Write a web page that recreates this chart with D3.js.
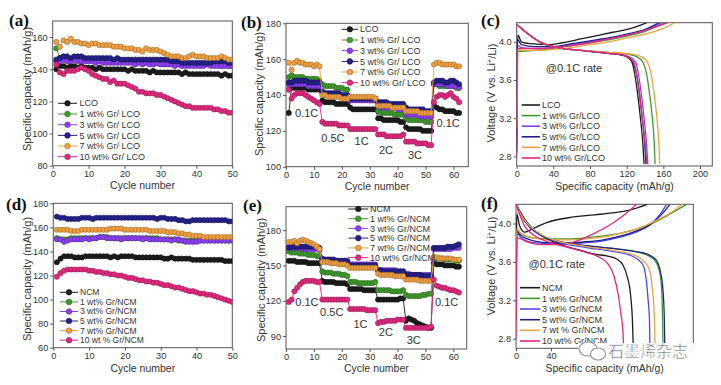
<!DOCTYPE html>
<html>
<head>
<meta charset="utf-8">
<title>Gr / LCO and Gr / NCM</title>
<script src="https://d3js.org/d3.v7.min.js"></script>
<style>
    body { margin: 0; background: #fff; }
    svg text { font-family: "Liberation Sans", Arial, sans-serif; fill: #333; }
    .plabel { font-family: "Liberation Serif", "Times New Roman", serif !important; font-weight: bold; fill: #111 !important; }
</style>
</head>
<body>
<svg id="fig" width="721" height="385"></svg>
<script>
    // ---- data ----
    const lcoNames = ['LCO', '1 wt% Gr/ LCO', '3 wt% Gr/ LCO', '5 wt% Gr/ LCO', '7 wt% Gr/ LCO', '10 wt% Gr/ LCO'];
    const lcoNamesC = ['LCO', '1 wt% Gr/LCO', '3 wt% Gr/LCO', '5 wt% Gr/LCO', '7 wt% Gr/LCO', '10 wt% Gr/LCO'];
    const ncmNamesD = ['NCM', '1 wt% Gr/NCM', '3 wt% Gr/NCM', '5 wt% Gr/NCM', '7 wt% Gr/NCM', '10 wt % Gr/NCM'];
    const ncmNamesE = ['NCM', '1 wt% Gr/NCM', '3 wt% Gr/NCM', '5 wt% Gr/NCM', '7 wt% Gr/NCM', '10 wt% Gr/NCM'];
    const ncmNamesF = ['NCM', '1 wt% Gr/NCM', '3 wt% Gr/NCM', '5 wt% Gr/NCM', '7 wt % Gr/NCM', '10 wt% Gr/NCM'];

    // (a) LCO cycling at 0.1C, cycles 1..50
    const aLCO = [140,142,142,141,142,142,141,142,141,141,141,140,141,140,140,140,140,140,140,140,139,140,139,139,139,139,138,139,138,138,138,138,138,138,138,137,138,137,137,137,137,137,137,137,137,137,136,137,136,136];
    const aGr1 = [153,147,146,147,146,146,147,146,146,146,146,146,146,145,146,145,145,145,145,145,145,145,145,145,145,144,145,144,144,144,144,144,144,144,143,143,143,143,143,143,143,143,143,143,143,143,142,143,142,142];
    const aGr3 = [145,145,146,145,145,146,145,145,145,145,145,144,145,144,144,144,144,144,144,144,144,144,143,144,143,144,143,143,144,143,143,143,143,142,143,142,142,142,142,142,142,142,143,142,142,142,142,142,142,142];
    const aGr5 = [146,147,148,148,147,148,148,148,147,147,147,147,147,147,147,147,146,147,146,146,146,146,146,146,146,146,146,146,146,146,146,146,145,145,145,144,144,144,144,144,144,144,144,144,145,145,145,145,144,144];
    const aGr7 = [157,154,158,157,159,157,157,156,156,155,156,156,155,155,155,155,154,154,154,153,153,153,152,152,151,153,152,152,152,151,150,149,148,148,148,147,147,148,149,148,148,148,147,147,147,147,148,147,146,146];
    const aGr10 = [143,138,137,139,139,139,140,141,140,139,137,136,135,134,134,132,133,131,131,131,130,129,128,126,126,125,125,125,124,124,123,122,121,120,119,118,117,117,116,116,116,116,116,116,115,115,114,114,113,113];

    // (b) LCO rate test, cycles 1..62
    const bLCO = [130,144,144,144,144,144,144,143,143,143,143,143, 137,136,136,136,136,135,135,135,135,135, 133,132,132,132,132,132,132,132,132,132, 127,127,126,126,126,126,126,126,125,125, 122,121,121,121,121,121,120,120,120,120, 134,133,132,132,131,131,131,131,130,130];
    const bGr1 = [150,151,150,150,150,150,149,149,149,149,149,148, 146,145,145,145,145,144,144,144,143,143, 138,138,138,138,138,138,138,137,137,137, 131,130,130,130,130,130,129,129,129,129, 127,126,126,126,126,126,126,125,125,125, 146,146,145,145,145,145,145,145,144,144];
    const bGr3 = [146,146,146,146,146,146,146,145,145,145,145,145, 141,140,140,140,140,140,140,139,139,139, 137,137,137,137,137,137,137,137,137,137, 134,133,133,133,133,133,133,132,132,132, 129,129,129,129,129,128,128,128,128,128, 146,146,146,146,146,145,145,145,145,144];
    const bGr5 = [147,147,148,148,148,148,148,147,147,147,147,147, 142,141,141,141,141,141,141,140,140,140, 138,138,138,138,138,138,138,138,138,138, 136,136,136,136,135,135,135,135,135,135, 133,132,132,132,132,132,132,131,131,131, 147,148,148,148,147,147,148,148,147,146];
    const bGr7 = [158,154,158,159,158,158,157,157,157,156,157,156, 140,140,139,139,139,139,139,138,138,138, 139,139,139,139,139,139,139,139,139,138, 134,134,134,134,134,133,133,133,133,133, 131,131,131,131,131,130,130,130,130,130, 157,158,158,157,157,157,157,157,156,156];
    const bGr10 = [143,138,140,141,141,141,140,139,138,137,136,135, 125,124,124,124,124,124,123,123,123,123, 121,121,121,121,121,121,121,121,121,121, 118,118,118,117,117,117,117,117,117,118, 114,114,114,114,113,113,113,113,112,112, 136,139,140,140,139,140,141,139,138,136];
    const rateB = [['0.1C', 7.4, 129.8], ['0.5C', 16.8, 116.2], ['1C', 27.1, 114], ['2C', 35.8, 109.3], ['3C', 46.2, 106.5], ['0.1C', 58.1, 124.2]];

    // (c) LCO charge / discharge at 0.1C: [capacity, voltage]
    const cCharge = [
        [[0,3.0],[0.5,3.9],[1.5,4.07],[5,4.0],[15,3.98],[35,3.97],[50,3.99],[70,4.03],[90,4.07],[105,4.1],[125,4.14],[142,4.2]],
        [[0,2.95],[0.5,3.88],[1.5,3.9],[5,3.9],[20,3.91],[40,3.93],[60,3.96],[80,3.99],[100,4.02],[120,4.06],[140,4.11],[162,4.2]],
        [[0,2.9],[0.5,3.9],[1.5,3.96],[5,3.94],[20,3.93],[40,3.94],[60,3.97],[80,4.0],[100,4.03],[120,4.07],[140,4.12],[158,4.2]],
        [[0,2.85],[0.5,3.92],[1.5,4.02],[5,3.97],[20,3.95],[40,3.95],[60,3.98],[80,4.01],[100,4.04],[120,4.08],[140,4.13],[155,4.2]],
        [[0,3.1],[0.5,3.3],[1.5,3.92],[5,3.91],[20,3.91],[40,3.92],[60,3.94],[80,3.97],[100,4.0],[120,4.04],[140,4.08],[160,4.14],[172,4.2]],
        [[0,2.8],[0.5,3.9],[1.5,3.93],[5,3.93],[20,3.93],[40,3.94],[60,3.96],[80,3.99],[100,4.03],[120,4.07],[140,4.12],[165,4.2]]
    ];
    const cDischarge = [
        [[0,4.18],[10,4.1],[25,4.0],[45,3.94],[70,3.91],[100,3.88],[115,3.86],[122,3.83],[126,3.78],[129,3.65],[132,3.45],[135,3.2],[137.5,2.95],[139,2.72]],
        [[0,4.18],[10,4.1],[25,4.0],[45,3.94],[70,3.91],[100,3.89],[120,3.87],[132,3.84],[138,3.78],[142,3.65],[145,3.45],[148,3.2],[150,2.95],[151,2.72]],
        [[0,4.18],[10,4.1],[25,4.0],[45,3.94],[70,3.91],[100,3.88],[117,3.86],[125,3.83],[130,3.78],[133,3.65],[136,3.45],[139,3.2],[141.5,2.95],[143,2.72]],
        [[0,4.18],[10,4.1],[25,4.0],[45,3.94],[70,3.91],[100,3.88],[116,3.86],[123,3.83],[127,3.78],[131,3.65],[134,3.45],[137,3.2],[139.5,2.95],[141,2.72]],
        [[0,4.18],[10,4.1],[25,4.0],[45,3.94],[70,3.91],[100,3.89],[125,3.87],[137,3.84],[143,3.78],[147,3.65],[150,3.45],[153,3.2],[155,2.95],[156,2.72]],
        [[0,4.18],[10,4.1],[25,4.0],[45,3.94],[70,3.91],[100,3.88],[116,3.86],[123,3.83],[128,3.78],[131,3.65],[134,3.45],[137,3.2],[140,2.95],[142,2.72]]
    ];

    // (d) NCM cycling, cycles 1..50
    const dNCM = [131,134,136,136,136,135,135,135,136,136,136,136,136,136,136,135,136,135,136,136,136,136,135,135,135,135,135,135,135,135,134,134,135,134,134,134,134,134,133,133,133,133,133,133,133,133,133,132,132,132];
    const dGr1 = [151,150,150,150,151,151,151,151,151,151,151,151,152,152,152,151,151,151,151,151,151,151,151,151,151,151,151,151,151,150,150,150,150,150,149,149,149,149,149,149,149,149,149,149,149,149,149,149,149,149];
    const dGr3 = [150,150,148,149,150,150,150,150,151,150,151,151,152,152,151,151,151,151,150,151,151,151,151,151,150,151,150,150,150,150,150,150,149,150,150,149,148,148,148,148,149,149,149,149,149,149,149,149,149,149];
    const dGr5 = [169,168,168,167,167,167,167,168,168,168,167,168,168,168,168,168,168,168,168,168,168,168,168,168,168,168,168,168,167,168,168,167,167,167,166,166,165,165,166,166,166,166,166,166,166,166,166,166,165,165];
    const dGr7 = [158,158,158,158,157,157,157,158,158,158,158,158,158,158,158,159,159,159,159,158,158,158,158,158,158,158,157,157,157,157,157,156,156,156,155,155,154,154,153,153,153,152,152,152,152,152,152,152,152,152];
    const dGr10 = [119,122,124,125,125,125,125,125,125,124,124,123,123,122,122,121,121,120,120,119,118,118,117,116,116,115,115,114,114,113,112,112,111,110,110,109,108,107,107,106,105,105,104,104,103,102,101,100,99,98];

    // (e) NCM rate test, cycles 1..62
    const eNCM = [154,154,154,153,153,153,153,152,152,152,152,152, 137,136,136,136,136,135,135,135,135,134, 130,130,130,130,130,129,129,129,129,129, 121,121,121,121,121,121,121,121,122,122, 103,105,104,103,101,100,99,98,97,97, 152,151,151,151,150,150,150,150,149,149];
    const eGr1 = [162,161,161,161,160,160,160,159,159,159,158,158, 145,144,144,144,143,143,143,142,142,141, 136,136,136,135,135,135,135,135,135,136, 129,129,129,129,129,128,128,128,128,129, 125,124,124,124,124,124,125,125,126,126, 157,156,156,156,155,155,155,155,154,154];
    const eGr3 = [166,165,165,165,165,164,164,164,164,164,164,163, 156,155,155,155,155,154,154,154,154,153, 151,151,151,151,151,151,151,151,151,151, 146,146,146,146,146,146,146,145,145,145, 143,143,142,142,142,142,142,142,142,142, 164,164,164,164,164,164,164,165,165,165];
    const eGr5 = [165,166,166,166,166,166,166,166,166,166,166,165, 155,155,155,155,155,154,154,154,154,154, 150,150,150,150,150,150,150,150,150,150, 146,146,145,145,145,145,145,145,145,145, 142,142,142,142,142,142,141,141,141,141, 165,165,165,165,165,166,166,166,167,168];
    const eGr7 = [170,170,171,169,171,172,171,170,169,168,166,164, 153,153,153,152,152,152,151,151,151,150, 148,148,148,148,148,148,148,148,148,148, 143,142,142,142,142,142,141,141,141,141, 138,138,138,138,138,137,137,137,137,137, 157,157,156,156,156,156,156,155,155,155];
    const eGr10 = [119,121,128,131,134,136,137,137,137,137,136,136, 121,121,121,121,121,121,121,121,121,121, 113,113,113,113,113,113,112,112,112,112, 101,102,102,103,103,103,103,104,104,104, 97,97,97,97,97,97,97,97,97,98, 138,133,132,131,131,130,129,129,128,127];
    const rateE = [['0.1C', 7.5, 118.6], ['0.5C', 16.4, 110.1], ['1C', 26.7, 100], ['2C', 35.8, 93.1], ['3C', 45.8, 86.3], ['0.1C', 57.6, 118.6]];

    // (f) NCM charge / discharge at 0.1C
    const fCharge = [
        [[0,3.0],[0.5,3.85],[1,4.1],[4,3.98],[10,3.91],[20,3.95],[35,4.01],[60,4.06],[90,4.09],[110,4.11],[130,4.14],[150,4.2]],
        [[0,3.1],[0.5,3.5],[1,3.93],[5,3.9],[20,3.85],[40,3.84],[60,3.84],[80,3.85],[100,3.87],[120,3.9],[140,3.95],[160,4.02],[180,4.12],[195,4.2]],
        [[0,3.1],[0.5,3.6],[1,3.9],[5,3.86],[20,3.8],[40,3.79],[60,3.79],[80,3.8],[100,3.82],[120,3.86],[140,3.92],[155,4.0],[165,4.1],[172,4.2]],
        [[0,3.15],[0.5,3.7],[1,3.92],[5,3.88],[20,3.82],[40,3.8],[60,3.8],[80,3.81],[100,3.83],[120,3.87],[140,3.93],[155,4.0],[167,4.1],[176,4.2]],
        [[0,3.2],[0.5,3.5],[1,3.95],[5,3.9],[20,3.85],[40,3.83],[60,3.83],[80,3.84],[100,3.86],[120,3.9],[140,3.95],[160,4.03],[178,4.12],[190,4.2]],
        [[0,2.8],[0.5,3.6],[1,3.85],[15,3.8],[30,3.78],[50,3.78],[70,3.82],[90,3.9],[110,4.0],[125,4.1],[138,4.2]]
    ];
    const fDischarge = [
        [[0,4.2],[5,4.12],[12,4.02],[25,3.9],[45,3.8],[70,3.73],[90,3.68],[105,3.66],[115,3.63],[122,3.57],[127,3.45],[131,3.25],[133,3.0],[134,2.72]],
        [[0,4.2],[5,4.1],[15,3.97],[30,3.87],[50,3.81],[80,3.77],[110,3.74],[135,3.71],[150,3.67],[159,3.61],[164,3.5],[166.5,3.3],[167.5,3.0],[168,2.72]],
        [[0,4.2],[5,4.1],[15,3.97],[30,3.87],[50,3.8],[80,3.75],[110,3.71],[130,3.67],[140,3.62],[146,3.55],[149,3.4],[151,3.2],[152.5,3.0],[153,2.72]],
        [[0,4.2],[5,4.1],[15,3.97],[30,3.87],[50,3.81],[80,3.77],[110,3.74],[135,3.71],[150,3.68],[160,3.62],[165,3.5],[168,3.3],[169.5,3.0],[170,2.72]],
        [[0,4.2],[5,4.1],[15,3.98],[30,3.88],[50,3.81],[80,3.76],[110,3.72],[135,3.67],[147,3.6],[153,3.5],[156,3.3],[158,3.05],[159,2.72]],
        [[0,4.2],[4,4.1],[10,3.97],[22,3.87],[40,3.8],[60,3.75],[80,3.7],[95,3.65],[105,3.58],[112,3.45],[117,3.25],[120,3.05],[122,2.9],[123,2.72]]
    ];

    // ---- styles ----
    const COLORS = ['#1c1c1c', '#3f9a2c', '#8a3ff0', '#25208a', '#f0a040', '#e0287e'];
    const COLORS_F = ['#1c1c1c', '#3f9a2c', '#4f46ee', '#25208a', '#e9a448', '#e0287e'];
    const FONT = { TICK: 9.2, TITLE: 10.5, LEGEND: 9, RATE: 11, PANEL: 17 };

    const svg = d3.select('#fig');
    const defs = svg.append('defs');

    // Build one panel: scales, frame, ticks and titles
    function makePanel(p) {
        const x = d3.scaleLinear().domain(p.xd).range([p.l, p.r]);
        const y = d3.scaleLinear().domain(p.yd).range([p.b, p.t]);
        const g = svg.append('g');

        defs.append('clipPath').attr('id', 'clip-' + p.key)
            .append('rect').attr('x', p.l).attr('y', p.t).attr('width', p.r - p.l).attr('height', p.b - p.t);

        // labels hidden under the watermark in (f) are left out
        const xfmt = d => (p.xHideFrom !== undefined && d >= p.xHideFrom) ? '' : d3.format('d')(d);
        const xa = g.append('g').attr('transform', `translate(0,${p.b})`)
            .call(d3.axisBottom(x).tickValues(p.xt).tickSize(3).tickSizeOuter(0).tickPadding(1.5).tickFormat(xfmt));
        const ya = g.append('g').attr('transform', `translate(${p.l},0)`)
            .call(d3.axisLeft(y).tickValues(p.yt).tickSize(3).tickSizeOuter(0).tickPadding(2).tickFormat(d3.format(p.yf)));
        [xa, ya].forEach(a => {
            a.select('.domain').remove();
            a.selectAll('line').attr('stroke', '#555');
            a.selectAll('text').style('font-size', FONT.TICK + 'px').attr('fill', '#333');
        });

        g.append('rect').attr('x', p.l).attr('y', p.t).attr('width', p.r - p.l).attr('height', p.b - p.t)
            .attr('fill', 'none').attr('stroke', '#555').attr('stroke-width', 1);

        g.append('text').attr('x', (p.l + p.r) / 2).attr('y', p.xty).attr('text-anchor', 'middle')
            .style('font-size', FONT.TITLE + 'px').text(p.xtitle);

        const yt = g.append('text').attr('transform', `translate(${p.ytx},${p.yty}) rotate(-90)`)
            .attr('text-anchor', 'middle').attr('dy', '0.35em').style('font-size', (FONT.TITLE + 0.5) + 'px');
        if (p.volt) {
            yt.append('tspan').text('Voltage (V vs. Li');
            yt.append('tspan').attr('dy', '-0.35em').style('font-size', '7px').text('+');
            yt.append('tspan').attr('dy', '0.35em').text('/Li)');
        } else {
            yt.text(p.ytitle);
        }

        svg.append('text').attr('class', 'plabel').attr('x', p.px).attr('y', p.py)
            .style('font-size', FONT.PANEL + 'px').text(p.label);

        const plot = g.append('g').attr('clip-path', `url(#clip-${p.key})`);
        return { x, y, g, plot };
    }

    // Cycle data: line + circle markers
    function drawCycles(P, series) {
        series.forEach((vals, i) => {
            const pts = vals.map((v, j) => [j + 1, v]);
            const c = COLORS[i];
            P.plot.append('path')
                .attr('d', d3.line().x(d => P.x(d[0])).y(d => P.y(d[1]))(pts))
                .attr('fill', 'none').attr('stroke', c).attr('stroke-width', 0.9);
            P.plot.append('g').selectAll('circle').data(pts).join('circle')
                .attr('cx', d => P.x(d[0])).attr('cy', d => P.y(d[1])).attr('r', 2.6)
                .attr('fill', c).attr('stroke', d3.color(c).darker(1.2)).attr('stroke-width', 0.6);
        });
    }

    // Voltage profiles
    function drawCurves(P, charge, discharge, colors) {
        const line = d3.line().x(d => P.x(d[0])).y(d => P.y(d[1])).curve(d3.curveMonotoneX);
        [charge, discharge].forEach(set => set.forEach((pts, i) => {
            P.plot.append('path').attr('d', line(pts))
                .attr('fill', 'none').attr('stroke', colors[i]).attr('stroke-width', 1.3);
        }));
    }

    function legend(L, names, colors, markers, fs) {
        names.forEach((n, i) => {
            const y = L.ys[i];
            svg.append('line').attr('x1', L.x0).attr('x2', L.x1).attr('y1', y).attr('y2', y)
                .attr('stroke', colors[i]).attr('stroke-width', markers ? 1 : 1.6);
            if (markers) {
                svg.append('circle').attr('cx', (L.x0 + L.x1) / 2).attr('cy', y).attr('r', 2.8)
                    .attr('fill', colors[i]).attr('stroke', d3.color(colors[i]).darker(1.2)).attr('stroke-width', 0.6);
            }
            svg.append('text').attr('x', L.tx).attr('y', y).attr('dy', '0.35em')
                .style('font-size', (fs || FONT.LEGEND) + 'px').text(n);
        });
    }

    function rateLabels(P, labels) {
        labels.forEach(([t, xv, yv]) => {
            svg.append('text').attr('x', P.x(xv)).attr('y', P.y(yv)).attr('dy', '0.35em')
                .attr('text-anchor', 'middle').style('font-size', FONT.RATE + 'px').text(t);
        });
    }

    const cap = 'Specific capacity (mAh/g)';
    const cyc = 'Cycle number';

    // (a)
    const pA = makePanel({ key: 'a', l: 52.7, r: 232.3, t: 21, b: 165.7, xd: [0, 50], yd: [80, 170],
        xt: [0, 10, 20, 30, 40, 50], yt: [80, 100, 120, 140, 160], yf: 'd',
        xtitle: cyc, xty: 189, ytitle: cap, ytx: 27.5, yty: 89, label: '(a)', px: 9, py: 26 });
    drawCycles(pA, [aLCO, aGr1, aGr3, aGr5, aGr7, aGr10]);
    legend({ x0: 58, x1: 77, tx: 79.5, ys: [103.3, 114, 124.7, 135.4, 146, 156.7] }, lcoNames, COLORS, true);

    // (b)
    const pB = makePanel({ key: 'b', l: 286, r: 468.3, t: 23.3, b: 166.7, xd: [0, 65.3], yd: [100, 180],
        xt: [0, 10, 20, 30, 40, 50, 60], yt: [100, 120, 140, 160, 180], yf: 'd',
        xtitle: cyc, xty: 189.5, ytitle: cap, ytx: 259, yty: 94, label: '(b)', px: 241, py: 28 });
    drawCycles(pB, [bLCO, bGr1, bGr3, bGr5, bGr7, bGr10]);
    rateLabels(pB, rateB);
    legend({ x0: 341.7, x1: 358, tx: 360, ys: [29.3, 40, 50.7, 61.4, 72, 82.7] }, lcoNames, COLORS, true);

    // (c)
    const pC = makePanel({ key: 'c', l: 516.7, r: 712.3, t: 22.7, b: 166, xd: [0, 213.4], yd: [2.7, 4.2],
        xt: [0, 40, 80, 120, 160, 200], yt: [2.8, 3.2, 3.6, 4.0], yf: '.1f',
        xtitle: cap, xty: 189.5, volt: true, ytx: 491, yty: 93, label: '(c)', px: 481, py: 26 });
    drawCurves(pC, cCharge, cDischarge, COLORS);
    svg.append('text').attr('x', pC.x(62.5)).attr('y', pC.y(3.72)).attr('dy', '0.35em')
        .attr('text-anchor', 'middle').style('font-size', FONT.RATE + 'px').text('@0.1C rate');
    legend({ x0: 521.7, x1: 540, tx: 542, ys: [105, 115.6, 126.2, 136.8, 147.4, 158] }, lcoNamesC, COLORS, false);

    // (d)
    const pD = makePanel({ key: 'd', l: 53.3, r: 232.3, t: 203.3, b: 347.7, xd: [0, 50], yd: [60, 180],
        xt: [0, 10, 20, 30, 40, 50], yt: [60, 80, 100, 120, 140, 160, 180], yf: 'd',
        xtitle: cyc, xty: 371.5, ytitle: cap, ytx: 27.5, yty: 279, label: '(d)', px: 6, py: 210 });
    drawCycles(pD, [dNCM, dGr1, dGr3, dGr5, dGr7, dGr10]);
    legend({ x0: 60, x1: 78, tx: 80, ys: [292.3, 301.9, 311.5, 321, 330.6, 340.2] }, ncmNamesD, COLORS, true, 8.5);

    // (e)
    const pE = makePanel({ key: 'e', l: 286, r: 466.7, t: 206.7, b: 349, xd: [0, 64.8], yd: [79, 200],
        xt: [0, 10, 20, 30, 40, 50, 60], yt: [90, 120, 150, 180], yf: 'd',
        xtitle: cyc, xty: 372, ytitle: cap, ytx: 261, yty: 280, label: '(e)', px: 243, py: 211 });
    drawCycles(pE, [eNCM, eGr1, eGr3, eGr5, eGr7, eGr10]);
    rateLabels(pE, rateE);
    legend({ x0: 348.3, x1: 368.3, tx: 370, ys: [209, 218.7, 228.4, 238.1, 247.9, 257.6] }, ncmNamesE, COLORS, true);

    // (f)
    const pF = makePanel({ key: 'f', l: 516, r: 693.3, t: 204.3, b: 348.3, xd: [0, 202.6], yd: [2.7, 4.2],
        xt: [0, 40, 80, 120, 160, 200], xHideFrom: 80, yt: [2.8, 3.2, 3.6, 4.0], yf: '.1f',
        xtitle: cap, xty: 371.5, volt: true, ytx: 491, yty: 266, label: '(f)', px: 481, py: 209 });
    drawCurves(pF, fCharge, fDischarge, COLORS_F);
    svg.append('text').attr('x', pF.x(46.5)).attr('y', pF.y(3.58)).attr('dy', '0.35em')
        .attr('text-anchor', 'middle').style('font-size', FONT.RATE + 'px').text('@0.1C rate');
    legend({ x0: 520, x1: 540, tx: 542, ys: [287.7, 298.4, 309, 319.7, 330.3, 341] }, ncmNamesF, COLORS_F, false);

    // watermark over panel (f)
    const wm = svg.append('g');
    wm.append('rect').attr('x', 578).attr('y', 343).attr('width', 122).attr('height', 17).attr('fill', '#fff').attr('opacity', 0.92);
    wm.append('ellipse').attr('cx', 588).attr('cy', 349).attr('rx', 9).attr('ry', 7)
        .attr('fill', '#fff').attr('stroke', '#9a9a9a').attr('stroke-width', 1.2);
    wm.append('ellipse').attr('cx', 598).attr('cy', 354).attr('rx', 7.5).attr('ry', 6)
        .attr('fill', '#fff').attr('stroke', '#9a9a9a').attr('stroke-width', 1.2);
    wm.append('text').attr('x', 608).attr('y', 357)
        .style('font-family', '"Noto Sans CJK SC", sans-serif').style('font-size', '16px')
        .attr('fill', '#8a8a8a').attr('stroke', '#fff').attr('stroke-width', 0.6)
        .text('石墨烯杂志');
</script>
</body>
</html>
